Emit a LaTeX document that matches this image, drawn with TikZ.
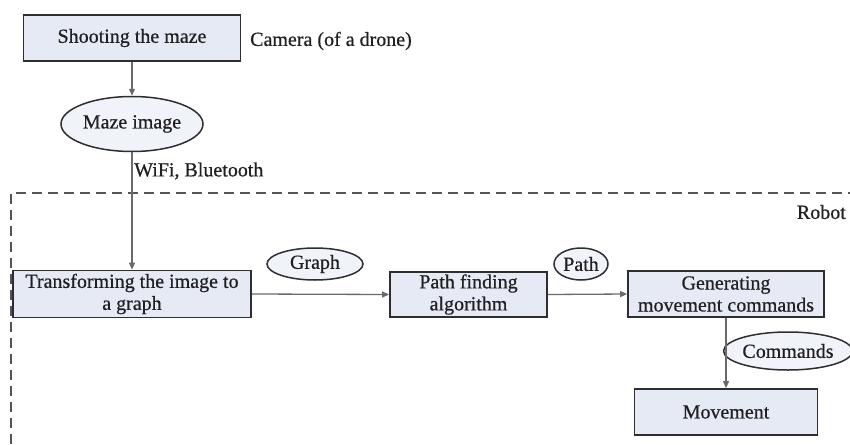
\documentclass[tikz,border=0pt]{standalone}
\usepackage{fontspec}
\setmainfont{Liberation Serif}[FakeBold=0.6]
\usetikzlibrary{shapes.geometric,arrows.meta}
\definecolor{boxfill}{HTML}{E6EAF5}
\definecolor{edgegray}{HTML}{2E2E2E}
\definecolor{arrowgray}{HTML}{6A6A6A}
\definecolor{txt}{HTML}{202020}
\tikzset{
  procbox/.style={draw=edgegray, line width=1.8pt, fill=boxfill, inner sep=1pt, align=center, text=txt, font=\fontsize{20}{22}\selectfont},
  dataell/.style={ellipse, draw=edgegray, line width=1.5pt, fill=boxfill!55, inner sep=0pt, text=txt, font=\fontsize{20}{22}\selectfont},
  plainlbl/.style={text=txt, inner sep=0pt, font=\fontsize{20}{22}\selectfont},
  flow/.style={draw=arrowgray, line width=1.3pt, -{Triangle[length=7pt,width=6pt]}},
  robotframe/.style={draw=arrowgray!80!black, line width=1.6pt, dash pattern=on 10pt off 6pt}
}
\begin{document}
\begin{tikzpicture}[x=1pt,y=-1pt]
\useasboundingbox[fill=white] (0,0) rectangle (850,444);
\begin{scope}
\clip (0,0) rectangle (850,444);
\draw[robotframe] (11,460) -- (11,193) -- (870,193);
\end{scope}

\node[procbox, minimum width=217pt, minimum height=46pt] (shoot) at (132,38) {Shooting the maze};
\node[plainlbl, anchor=west] (camera) at (250,41) {Camera (of a drone)};
\node[dataell, minimum width=142pt, minimum height=55pt] (maze) at (132,124) {Maze image};
\node[plainlbl, anchor=west] (wifi) at (134,171) {WiFi, Bluetooth};
\node[plainlbl, anchor=east] (robot) at (846,212) {Robot};

\node[procbox, minimum width=238pt, minimum height=47pt] (trans) at (132,294) {Transforming the image to\\a graph};
\node[dataell, minimum width=96pt, minimum height=32pt] (graph) at (315,264) {Graph};
\node[procbox, minimum width=157pt, minimum height=45pt] (pathfind) at (468.5,294.5) {Path finding\\algorithm};
\node[dataell, minimum width=54pt, minimum height=32pt] (path) at (581,264) {Path};
\node[procbox, minimum width=196pt, minimum height=46pt] (gen) at (726,294) {Generating\\movement commands};
\node[dataell, minimum width=120pt, minimum height=38pt] (cmds) at (788,351) {Commands};
\node[procbox, minimum width=183pt, minimum height=46pt] (move) at (726,412) {Movement};

\draw[flow] (shoot) -- (maze);
\draw[flow] (maze) -- (trans);
\draw[flow] (trans.east) -- (pathfind.west);
\draw[flow] (pathfind.east) -- (gen.west);
\draw[flow] (gen) -- (move);
\end{tikzpicture}
\end{document}
